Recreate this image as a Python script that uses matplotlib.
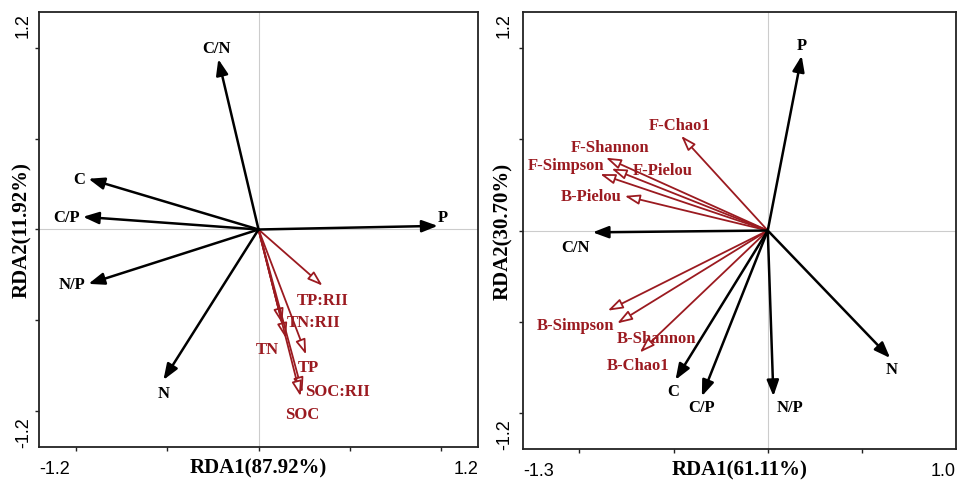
import matplotlib
matplotlib.use("Agg")
import matplotlib.pyplot as plt

RED = "#9b1a20"
SERIF = "Liberation Serif"
SANS = "Liberation Sans"

# left panel: soil variables (black) and RII / soil nutrients (red)
left_env = ["P", "C/N", "C", "C/P", "N/P", "N"]
left_env_x = [0.98, -0.22, -0.93, -0.96, -0.93, -0.52]
left_env_y = [0.02, 0.94, 0.28, 0.07, -0.30, -0.83]
left_env_lx = [1.01, -0.23, -0.98, -1.05, -1.02, -0.52]
left_env_ly = [0.07, 1.00, 0.28, 0.07, -0.30, -0.90]

left_resp = ["TP:RII", "TN:RII", "TN", "TP", "SOC:RII", "SOC"]
left_resp_x = [0.35, 0.13, 0.15, 0.26, 0.24, 0.23]
left_resp_y = [-0.31, -0.52, -0.60, -0.69, -0.90, -0.92]
left_resp_lx = [0.35, 0.30, 0.05, 0.27, 0.43, 0.24]
left_resp_ly = [-0.39, -0.51, -0.66, -0.76, -0.89, -1.02]

# right panel
right_env = ["P", "C/N", "C", "C/P", "N/P", "N"]
right_env_x = [0.18, -0.93, -0.49, -0.35, 0.03, 0.65]
right_env_y = [0.96, -0.01, -0.82, -0.91, -0.91, -0.70]
right_env_lx = [0.18, -1.02, -0.50, -0.35, 0.12, 0.66]
right_env_ly = [1.02, -0.09, -0.88, -0.97, -0.97, -0.76]

right_resp = ["F-Chao1", "F-Shannon", "F-Simpson", "F-Pielou", "B-Pielou",
              "B-Simpson", "B-Shannon", "B-Chao1"]
right_resp_x = [-0.46, -0.86, -0.89, -0.83, -0.76, -0.85, -0.80, -0.68]
right_resp_y = [0.52, 0.40, 0.31, 0.34, 0.19, -0.44, -0.51, -0.67]
right_resp_lx = [-0.47, -0.84, -1.07, -0.56, -0.94, -1.02, -0.59, -0.69]
right_resp_ly = [0.58, 0.46, 0.36, 0.33, 0.19, -0.52, -0.59, -0.74]

panels = [
    dict(rect=[0.0408, 0.0686, 0.4587, 0.9044], xlim=(-1.2, 1.2), ylim=(-1.2, 1.2),
         xticks=[-1.0, -0.5, 0, 0.5, 1.0], xlab="RDA1(87.92%)", ylab="RDA2(11.92%)",
         xends=("-1.2", "1.2"), yends=("-1.2", "1.2"), yoff=-0.016,
         env=(left_env, left_env_x, left_env_y, left_env_lx, left_env_ly),
         resp=(left_resp, left_resp_x, left_resp_y, left_resp_lx, left_resp_ly)),
    dict(rect=[0.5465, 0.0644, 0.4525, 0.9085], xlim=(-1.3, 1.0), ylim=(-1.2, 1.2),
         xticks=[-1.0, -0.5, 0, 0.5], xlab="RDA1(61.11%)", ylab="RDA2(30.70%)",
         xends=("-1.3", "1.0"), yends=("-1.2", "1.2"), yoff=-0.023,
         env=(right_env, right_env_x, right_env_y, right_env_lx, right_env_ly),
         resp=(right_resp, right_resp_x, right_resp_y, right_resp_lx, right_resp_ly)),
]

fig = plt.figure(figsize=(9.57, 4.81), dpi=100)

for p in panels:
    ax = fig.add_axes(p["rect"])
    ax.set_xlim(*p["xlim"])
    ax.set_ylim(*p["ylim"])
    ax.axhline(0, color="#cccccc", lw=0.8, zorder=0)
    ax.axvline(0, color="#cccccc", lw=0.8, zorder=0)
    ax.set_xticks(p["xticks"])
    ax.set_yticks([-1.0, -0.5, 0, 0.5, 1.0])
    ax.set_xticklabels([])
    ax.set_yticklabels([])
    ax.tick_params(direction="out", length=3, width=1, color="#222222")
    for s in ax.spines.values():
        s.set_linewidth(1.3)
        s.set_color("#222222")

    # end labels of the axes
    yoff = p["yoff"]
    ax.text(0, -0.03, p["xends"][0], transform=ax.transAxes, ha="left", va="top",
            fontsize=13, family=SANS)
    ax.text(1, -0.03, p["xends"][1], transform=ax.transAxes, ha="right", va="top",
            fontsize=13, family=SANS)
    ax.text(yoff, 0, p["yends"][0], transform=ax.transAxes, ha="right", va="bottom",
            rotation=90, fontsize=13, family=SANS)
    ax.text(yoff, 1, p["yends"][1], transform=ax.transAxes, ha="right", va="top",
            rotation=90, fontsize=13, family=SANS)
    ax.text(0.5, -0.025, p["xlab"], transform=ax.transAxes, ha="center", va="top",
            fontsize=15, family=SERIF, weight="bold")
    ax.text(yoff, 0.5, p["ylab"], transform=ax.transAxes, ha="right", va="center",
            rotation=90, fontsize=15, family=SERIF, weight="bold")

    names, xs, ys, lxs, lys = p["resp"]
    for n, x, y, lx, ly in zip(names, xs, ys, lxs, lys):
        ax.annotate("", xy=(x, y), xytext=(0, 0),
                    arrowprops=dict(arrowstyle="-|>,head_length=0.9,head_width=0.3",
                                    facecolor="white", edgecolor=RED, lw=1.3,
                                    shrinkA=0, shrinkB=0))
        ax.text(lx, ly, n, ha="center", va="center", color=RED, fontsize=12,
                family=SERIF, weight="bold")

    names, xs, ys, lxs, lys = p["env"]
    for n, x, y, lx, ly in zip(names, xs, ys, lxs, lys):
        ax.annotate("", xy=(x, y), xytext=(0, 0),
                    arrowprops=dict(arrowstyle="-|>,head_length=0.95,head_width=0.36",
                                    color="black", lw=1.8, shrinkA=0, shrinkB=0))
        ax.text(lx, ly, n, ha="center", va="center", color="black", fontsize=12,
                family=SERIF, weight="bold")

fig.savefig("out.png", dpi=100)
